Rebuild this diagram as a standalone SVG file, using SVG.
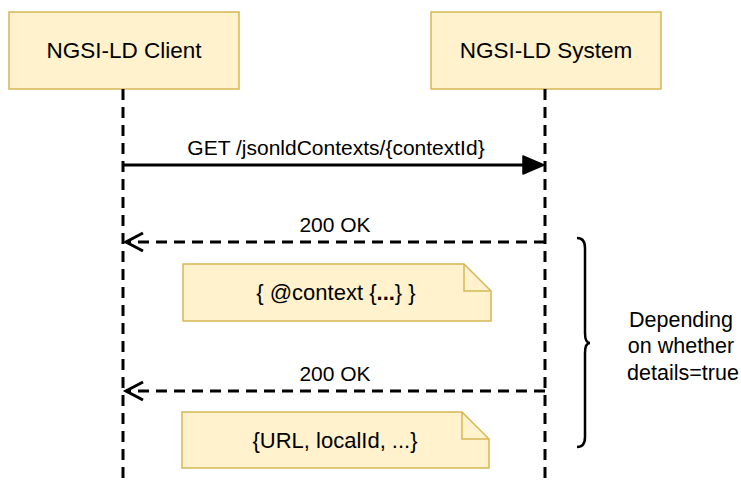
<svg xmlns="http://www.w3.org/2000/svg" width="741" height="483" viewBox="0 0 741 483">
<style>
.box{fill:#fff2cc;stroke:#d6b656;stroke-width:1.5}
.t{font-family:"Liberation Sans",Arial,sans-serif;fill:#000;text-anchor:middle}
.life{stroke:#000;stroke-width:3;stroke-dasharray:11 7;fill:none}
.msg{stroke:#000;stroke-width:3;fill:none}
.ret{stroke:#000;stroke-width:3;stroke-dasharray:11 7;fill:none}
</style>
<rect width="741" height="483" fill="#fff"/>
<g id="client">
<rect class="box" x="9" y="12" width="230" height="77"/>
<text class="t" x="124" y="58" font-size="22.5">NGSI-LD Client</text>
</g>
<g id="system">
<rect class="box" x="431" y="12" width="230" height="77"/>
<text class="t" x="546" y="58" font-size="22.5">NGSI-LD System</text>
</g>
<g id="note1">
<path class="box" d="M183 264 H464 L491 291 V321 H183 Z"/>
<path d="M464 264 V291 H491" fill="none" stroke="#d6b656" stroke-width="1.5"/>
<text class="t" x="336" y="300" font-size="22">{ @context {<tspan font-weight="bold">...</tspan>} }</text>
</g>
<g id="note2">
<path class="box" d="M182 412 H462 L489 439 V468 H182 Z"/>
<path d="M462 412 V439 H489" fill="none" stroke="#d6b656" stroke-width="1.5"/>
<text class="t" x="335" y="448" font-size="22">{URL, localId, ...}</text>
</g>
<g id="brace">
<path d="M577 238 Q585 238 585 248 V333 Q585 343 590 343 Q585 343 585 353 V437 Q585 447 577 447" fill="none" stroke="#000" stroke-width="2.5"/>
<text class="t" x="681" y="327" font-size="21.5">Depending</text>
<text class="t" x="681" y="353" font-size="21.5">on whether</text>
<text class="t" x="683" y="380" font-size="21.5">details=true</text>
</g>
<g id="connectors">
<line class="life" x1="123" y1="89" x2="123" y2="483"/>
<line class="life" x1="545" y1="89" x2="545" y2="483"/>
<line class="msg" x1="123" y1="165" x2="528" y2="165"/>
<path d="M523 156 L544 165 L523 174 Z" fill="#000" stroke="#000" stroke-width="1.5" stroke-linejoin="round"/>
<text class="t" x="336" y="155" font-size="21">GET /jsonldContexts/{contextId}</text>
<line class="ret" x1="545" y1="242" x2="126" y2="242"/>
<path class="msg" d="M143 233 L126 242 L143 251"/>
<text class="t" x="335" y="232" font-size="21">200 OK</text>
<line class="ret" x1="545" y1="391" x2="126" y2="391"/>
<path class="msg" d="M143 382 L126 391 L143 400"/>
<text class="t" x="335" y="381" font-size="21">200 OK</text>
</g>
</svg>
